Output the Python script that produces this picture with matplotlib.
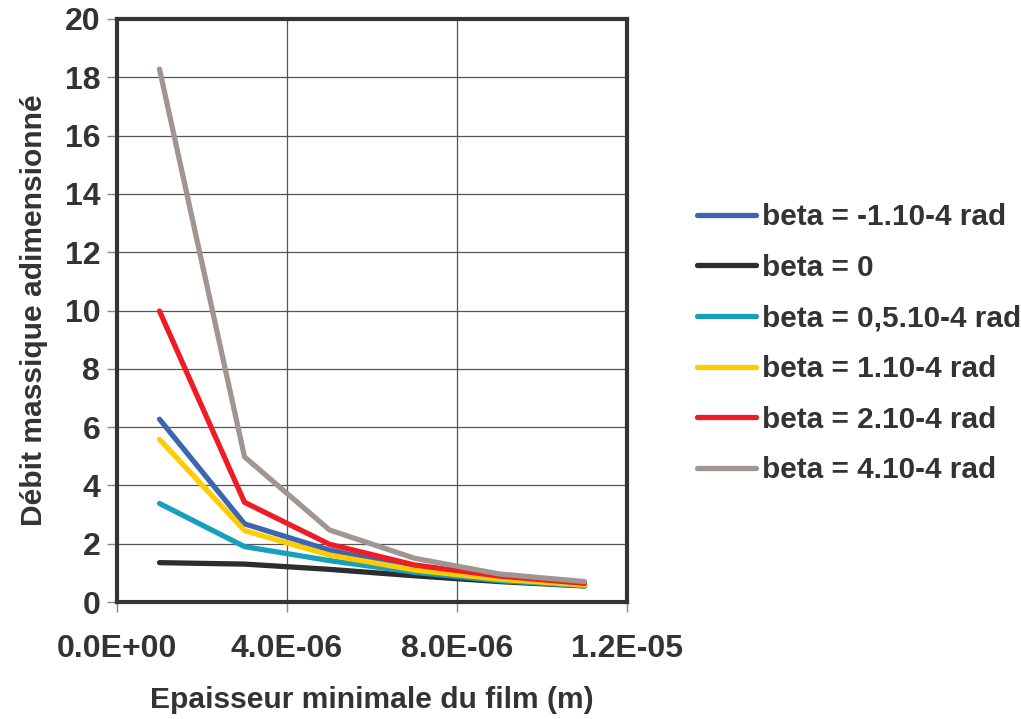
import matplotlib.pyplot as plt
from matplotlib.ticker import MultipleLocator, FuncFormatter

plt.rcParams['font.family'] = ['Liberation Sans', 'DejaVu Sans']
plt.rcParams['font.weight'] = 'bold'

epaisseur = [1e-6, 3e-6, 5e-6, 7e-6, 9e-6, 1.1e-5]

series_labels = [
    "beta = -1.10-4 rad",
    "beta = 0",
    "beta = 0,5.10-4 rad",
    "beta = 1.10-4 rad",
    "beta = 2.10-4 rad",
    "beta = 4.10-4 rad",
]
beta_m1 = [6.27, 2.68, 1.78, 1.15, 0.81, 0.60]
beta_0 = [1.35, 1.30, 1.12, 0.90, 0.70, 0.55]
beta_05 = [3.38, 1.90, 1.42, 1.02, 0.73, 0.56]
beta_1 = [5.58, 2.45, 1.61, 1.10, 0.78, 0.58]
beta_2 = [9.98, 3.42, 1.98, 1.27, 0.89, 0.64]
beta_4 = [18.28, 4.98, 2.47, 1.50, 0.96, 0.70]
series_values = [beta_m1, beta_0, beta_05, beta_1, beta_2, beta_4]
colors = ["#3d66b0", "#2d2d30", "#17a0bd", "#ffcc00", "#ee1c25", "#a09591"]

text_color = "#333333"

fig = plt.figure(figsize=(10.21, 7.19), dpi=100)
ax = fig.add_axes([117 / 1021, 1 - 602 / 719, 510 / 1021, 583 / 719])

for vals, lab, col in zip(series_values, series_labels, colors):
    ax.plot(epaisseur, vals, color=col, linewidth=3.8, label=lab,
            solid_capstyle='round')

ax.set_xlim(0, 1.2e-5)
ax.set_ylim(0, 20)
ax.xaxis.set_major_locator(MultipleLocator(4e-6))
ax.yaxis.set_major_locator(MultipleLocator(2))
ax.xaxis.set_major_formatter(FuncFormatter(lambda v, p: f"{v:.1E}"))
ax.grid(True, color="#555555", linewidth=0.9)
ax.set_axisbelow(True)

for s in ax.spines.values():
    s.set_linewidth(3.0)
    s.set_color("#333338")

ax.tick_params(axis='both', direction='out', length=7, width=1, color="#888888",
               labelsize=23, labelcolor=text_color)
ax.tick_params(axis='x', pad=16)
ax.tick_params(axis='y', pad=5)
for lbl in ax.get_xticklabels() + ax.get_yticklabels():
    lbl.set_fontweight('bold')

ax.set_xlabel("Epaisseur minimale du film (m)", fontsize=21.6, fontweight='bold',
              color=text_color, labelpad=16)
ax.set_ylabel("Débit massique adimensionné", fontsize=21.6, fontweight='bold',
              color=text_color, labelpad=12)

leg = fig.legend(loc='center left', bbox_to_anchor=(0.6827, 0.522), frameon=False,
                 fontsize=21.4, handlelength=2.0, handletextpad=0.17, labelspacing=0.76,
                 borderpad=0, borderaxespad=0)
for t in leg.get_texts():
    t.set_color(text_color)
    t.set_fontweight('bold')

fig.savefig("out.png", dpi=100)
